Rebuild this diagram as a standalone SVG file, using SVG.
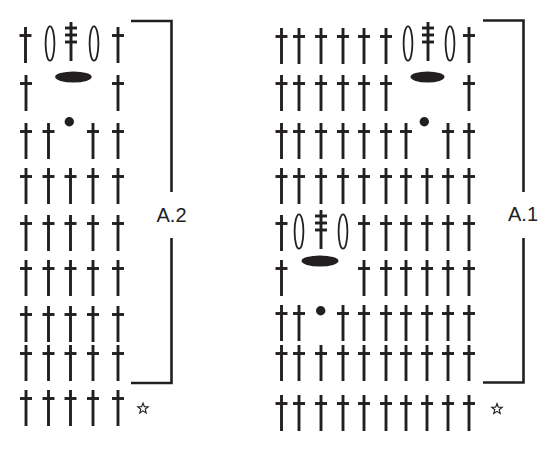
<svg xmlns="http://www.w3.org/2000/svg" xmlns:xlink="http://www.w3.org/1999/xlink" width="558" height="450" viewBox="0 0 558 450">
<style>
.st{stroke:#231f20;stroke-width:2.9;fill:none}
.oe{stroke:#231f20;stroke-width:1.8;fill:none}
.fe{fill:#231f20;stroke:none}
.br{stroke:#231f20;stroke-width:2.6;fill:none}
.lbl{font-family:"Liberation Sans",Arial,sans-serif;font-size:20px;fill:#231f20;text-anchor:middle}
.star{stroke:#231f20;stroke-width:1.1;fill:#fff;stroke-linejoin:miter}
</style>
<defs>
<g id="tr"><line class="st" x1="0" y1="0" x2="0" y2="36"/><line class="st" x1="-6" y1="8.5" x2="6" y2="8.5"/></g>
<g id="tp"><line class="st" x1="0" y1="-6" x2="0" y2="33"/><line class="st" x1="-6" y1="0" x2="6" y2="0"/><line class="st" x1="-6" y1="7" x2="6" y2="7"/><line class="st" x1="-6" y1="14" x2="6" y2="14"/></g>
<ellipse id="oe" class="oe" cx="0" cy="0" rx="4.4" ry="17.2"/>
<polygon id="star" class="star" points="0,-5.5 1.35,-1.86 5.23,-1.7 2.19,0.71 3.23,4.45 0,2.3 -3.23,4.45 -2.19,0.71 -5.23,-1.7 -1.35,-1.86"/>
</defs>

<g id="chartA2">
<g id="A2-row1">
<use href="#tr" x="25.5" y="27"/>
<use href="#oe" x="50" y="43.5"/>
<use href="#tp" x="71" y="28"/>
<use href="#oe" x="94" y="43.5"/>
<use href="#tr" x="118" y="27"/>
</g>
<g id="A2-row2">
<use href="#tr" x="26" y="75"/>
<ellipse class="fe" cx="73.4" cy="77" rx="18.3" ry="5.5"/>
<use href="#tr" x="118" y="75"/>
</g>
<g id="A2-row3">
<use href="#tr" x="26" y="123"/>
<use href="#tr" x="48.5" y="123"/>
<circle class="fe" cx="69.3" cy="121.7" r="4.7"/>
<use href="#tr" x="93" y="123"/>
<use href="#tr" x="118" y="123"/>
</g>
<g id="A2-row4">
<use href="#tr" x="26" y="168"/><use href="#tr" x="48.5" y="168"/><use href="#tr" x="70.5" y="168"/><use href="#tr" x="93" y="168"/><use href="#tr" x="118" y="168"/>
</g>
<g id="A2-row5">
<use href="#tr" x="26" y="215"/><use href="#tr" x="48.5" y="215"/><use href="#tr" x="70.5" y="215"/><use href="#tr" x="93" y="215"/><use href="#tr" x="118" y="215"/>
</g>
<g id="A2-row6">
<use href="#tr" x="26" y="260"/><use href="#tr" x="48.5" y="260"/><use href="#tr" x="70.5" y="260"/><use href="#tr" x="93" y="260"/><use href="#tr" x="118" y="260"/>
</g>
<g id="A2-row7">
<use href="#tr" x="26" y="306"/><use href="#tr" x="48.5" y="306"/><use href="#tr" x="70.5" y="306"/><use href="#tr" x="93" y="306"/><use href="#tr" x="118" y="306"/>
</g>
<g id="A2-row8">
<use href="#tr" x="26" y="345"/><use href="#tr" x="48.5" y="345"/><use href="#tr" x="70.5" y="345"/><use href="#tr" x="93" y="345"/><use href="#tr" x="118" y="345"/>
</g>
<g id="A2-row9">
<use href="#tr" x="26" y="390"/><use href="#tr" x="48.5" y="390"/><use href="#tr" x="70.5" y="390"/><use href="#tr" x="93" y="390"/><use href="#tr" x="118" y="390"/>
<use href="#star" x="143" y="408.5"/>
</g>
</g>

<g id="chartA1">
<g id="A1-row1">
<use href="#tr" x="281.5" y="28"/><use href="#tr" x="299" y="28"/><use href="#tr" x="321" y="28"/><use href="#tr" x="343" y="28"/><use href="#tr" x="364" y="28"/><use href="#tr" x="386" y="28"/>
<use href="#oe" x="408" y="43.5"/>
<use href="#tp" x="428" y="28"/>
<use href="#oe" x="450" y="43.5"/>
<use href="#tr" x="469" y="27"/>
</g>
<g id="A1-row2">
<use href="#tr" x="281.5" y="75"/><use href="#tr" x="299" y="75"/><use href="#tr" x="321" y="75"/><use href="#tr" x="343" y="75"/><use href="#tr" x="364" y="75"/><use href="#tr" x="386" y="75"/>
<ellipse class="fe" cx="427.5" cy="77" rx="17" ry="5.5"/>
<use href="#tr" x="469" y="75"/>
</g>
<g id="A1-row3">
<use href="#tr" x="281.5" y="123"/><use href="#tr" x="299" y="123"/><use href="#tr" x="321" y="123"/><use href="#tr" x="343" y="123"/><use href="#tr" x="364" y="123"/><use href="#tr" x="386" y="123"/><use href="#tr" x="406" y="123"/>
<circle class="fe" cx="424.3" cy="121.7" r="4.7"/>
<use href="#tr" x="448" y="123"/><use href="#tr" x="469" y="123"/>
</g>
<g id="A1-row4">
<use href="#tr" x="281.5" y="168"/><use href="#tr" x="299" y="168"/><use href="#tr" x="321" y="168"/><use href="#tr" x="343" y="168"/><use href="#tr" x="364" y="168"/><use href="#tr" x="386" y="168"/><use href="#tr" x="406" y="168"/><use href="#tr" x="427" y="168"/><use href="#tr" x="448" y="168"/><use href="#tr" x="469" y="168"/>
</g>
<g id="A1-row5">
<use href="#tr" x="281.5" y="215"/>
<use href="#oe" x="299" y="231.5"/>
<use href="#tp" x="321" y="216"/>
<use href="#oe" x="343" y="231.5"/>
<use href="#tr" x="364" y="215"/><use href="#tr" x="386" y="215"/><use href="#tr" x="406" y="215"/><use href="#tr" x="427" y="215"/><use href="#tr" x="448" y="215"/><use href="#tr" x="469" y="215"/>
</g>
<g id="A1-row6">
<use href="#tr" x="281.5" y="260"/>
<ellipse class="fe" cx="320" cy="261" rx="18.5" ry="5.5"/>
<use href="#tr" x="364" y="260"/><use href="#tr" x="386" y="260"/><use href="#tr" x="406" y="260"/><use href="#tr" x="427" y="260"/><use href="#tr" x="448" y="260"/><use href="#tr" x="469" y="260"/>
</g>
<g id="A1-row7">
<use href="#tr" x="281.5" y="305"/><use href="#tr" x="299" y="305"/>
<circle class="fe" cx="320.7" cy="310.7" r="4.7"/>
<use href="#tr" x="343" y="305"/><use href="#tr" x="364" y="305"/><use href="#tr" x="386" y="305"/><use href="#tr" x="406" y="305"/><use href="#tr" x="427" y="305"/><use href="#tr" x="448" y="305"/><use href="#tr" x="469" y="305"/>
</g>
<g id="A1-row8">
<use href="#tr" x="281.5" y="345"/><use href="#tr" x="299" y="345"/><use href="#tr" x="321" y="345"/><use href="#tr" x="343" y="345"/><use href="#tr" x="364" y="345"/><use href="#tr" x="386" y="345"/><use href="#tr" x="406" y="345"/><use href="#tr" x="427" y="345"/><use href="#tr" x="448" y="345"/><use href="#tr" x="469" y="345"/>
</g>
<g id="A1-row9">
<use href="#tr" x="281.5" y="395"/><use href="#tr" x="299" y="395"/><use href="#tr" x="321" y="395"/><use href="#tr" x="343" y="395"/><use href="#tr" x="364" y="395"/><use href="#tr" x="386" y="395"/><use href="#tr" x="406" y="395"/><use href="#tr" x="427" y="395"/><use href="#tr" x="448" y="395"/><use href="#tr" x="469" y="395"/>
<use href="#star" x="497" y="409"/>
</g>
</g>

<g id="brackets">
<path class="br" d="M131,21 H171.5 V192 M171.5,238 V383 H131"/>
<path class="br" d="M483,20.5 H523.5 V192 M523.5,238 V382.5 H483"/>
</g>
<g id="labels">
<text class="lbl" x="171.5" y="222">A.2</text>
<text class="lbl" x="523" y="221">A.1</text>
</g>
</svg>
